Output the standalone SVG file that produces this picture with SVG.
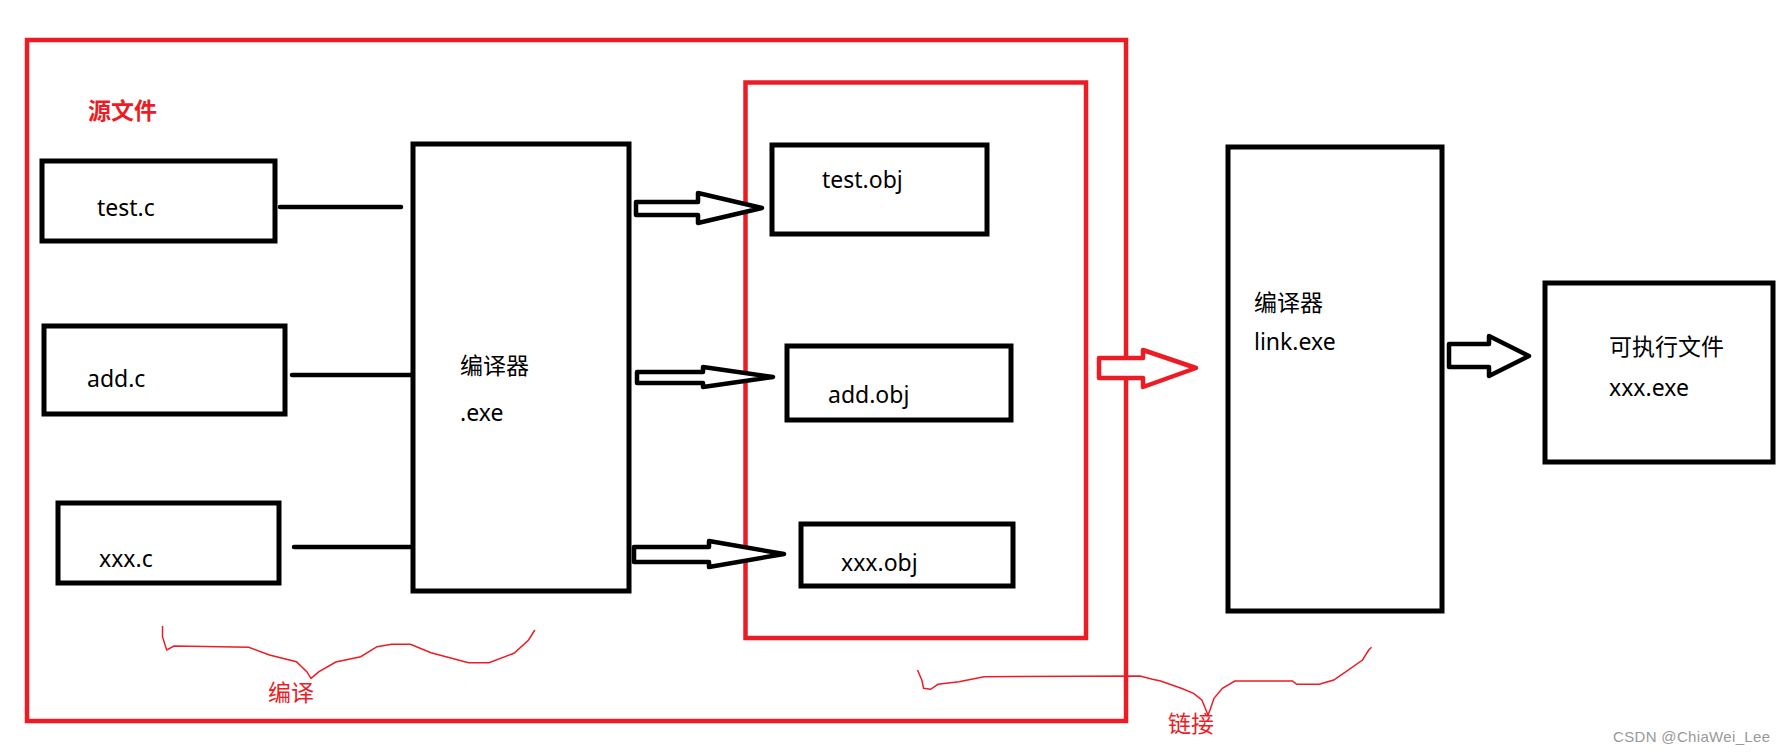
<svg xmlns="http://www.w3.org/2000/svg" width="1786" height="755" viewBox="0 0 1786 755">
<style>
.box{fill:none;stroke:#000;stroke-width:5}
.red{fill:none;stroke:#ed1c24;stroke-width:4.5}
.ln{stroke:#000;stroke-width:4.5;stroke-linecap:round;fill:none}
.harr{fill:#fff;stroke:#000;stroke-width:4.5;stroke-linejoin:round}
.brace{fill:none;stroke:#ed1c24;stroke-width:1.5}
text{font-family:"Noto Sans","Noto Sans CJK SC",sans-serif;font-size:23px;fill:#000}
.rt{fill:#ed1c24}
</style>
<rect width="1786" height="755" fill="#fff"/>
<g id="frames">
<rect class="red" x="27" y="40" width="1099" height="681"/>
<rect class="red" x="745.5" y="82.5" width="340.5" height="555.5"/>
</g>
<text class="rt" x="88" y="119" font-weight="bold" font-size="22">源文件</text>
<g id="src-test"><rect class="box" x="42" y="161" width="233" height="80"/><text x="97" y="216">test.c</text></g>
<g id="src-add"><rect class="box" x="44" y="326" width="241" height="88"/><text x="87" y="387">add.c</text></g>
<g id="src-xxx"><rect class="box" x="58" y="503" width="221" height="80"/><text x="99" y="567">xxx.c</text></g>
<g id="compiler"><rect class="box" x="413" y="144" width="216" height="447"/><text x="460" y="374">编译器</text><text x="460" y="421">.exe</text></g>
<g id="obj-test"><rect class="box" x="772" y="145" width="215" height="89"/><text x="822" y="188">test.obj</text></g>
<g id="obj-add"><rect class="box" x="787" y="346" width="224" height="74"/><text x="828" y="403">add.obj</text></g>
<g id="obj-xxx"><rect class="box" x="801" y="524" width="212" height="62"/><text x="841" y="571">xxx.obj</text></g>
<g id="linker"><rect class="box" x="1228" y="147" width="214" height="464"/><text x="1254" y="311">编译器</text><text x="1254" y="350">link.exe</text></g>
<g id="exe"><rect class="box" x="1545" y="283" width="228" height="179"/><text x="1609" y="355">可执行文件</text><text x="1609" y="396">xxx.exe</text></g>
<g id="connectors">
<line class="ln" x1="280" y1="207" x2="401" y2="207"/>
<line class="ln" x1="292" y1="375" x2="411" y2="375"/>
<line class="ln" x1="294" y1="547" x2="411" y2="547"/>
<polygon class="harr" points="636,202 698,202 698,193 762,208 698,223 698,215 636,215"/>
<polygon class="harr" points="637,372 703,372 703,367 773,377 703,387 703,383 637,383"/>
<polygon class="harr" points="634,547 709,547 709,541 784,554 709,567 709,562 634,562"/>
<polygon class="harr" points="1449,344 1489,344 1489,336 1529,356 1489,376 1489,367 1449,367"/>
<polygon fill="#fff" stroke="#ed1c24" stroke-width="4.5" stroke-linejoin="round" points="1099,358 1143,358 1143,350 1196,368 1143,387 1143,378 1099,378"/>
</g>
<path class="brace" d="M162.5,626 L162.5,637 L166.7,650 L174,646 L220,646.7 L248.8,647.3 L269.5,655 L296.4,661.7 L306.8,671.7 L311,678.3 L319,671.7 L335.8,662 L360.7,656.7 L377,646.7 L391.8,644.3 L410.4,644.3 L431,652.7 L468.5,662.7 L489,662.7 L514,653.3 L528.6,640 L534.8,630"/>
<text class="rt" x="268" y="701" font-size="22">编译</text>
<path class="brace" d="M917.5,670 L921.8,680 L923.6,688.3 L930.7,689.3 L937.9,684.3 L959,681.7 L984,676.7 L1140,676 L1152.4,679.3 L1160.6,681 L1181.2,688.3 L1193.6,693.3 L1201.8,700 L1206,710 L1208,715 L1210,710 L1214,698.3 L1222.4,688.3 L1234.8,681 L1292.5,681 L1296.6,684.3 L1319.2,684.3 L1333.7,680 L1346,671.7 L1362.5,660 L1368.7,650 L1371.6,647.3"/>
<text class="rt" x="1168" y="732" font-size="22">链接</text>
<text x="1613" y="742" font-family="'Liberation Sans',sans-serif" font-size="15" fill="#999" style="font-family:'Liberation Sans',sans-serif;font-size:15px;fill:#999" textLength="157">CSDN @ChiaWei_Lee</text>
</svg>
